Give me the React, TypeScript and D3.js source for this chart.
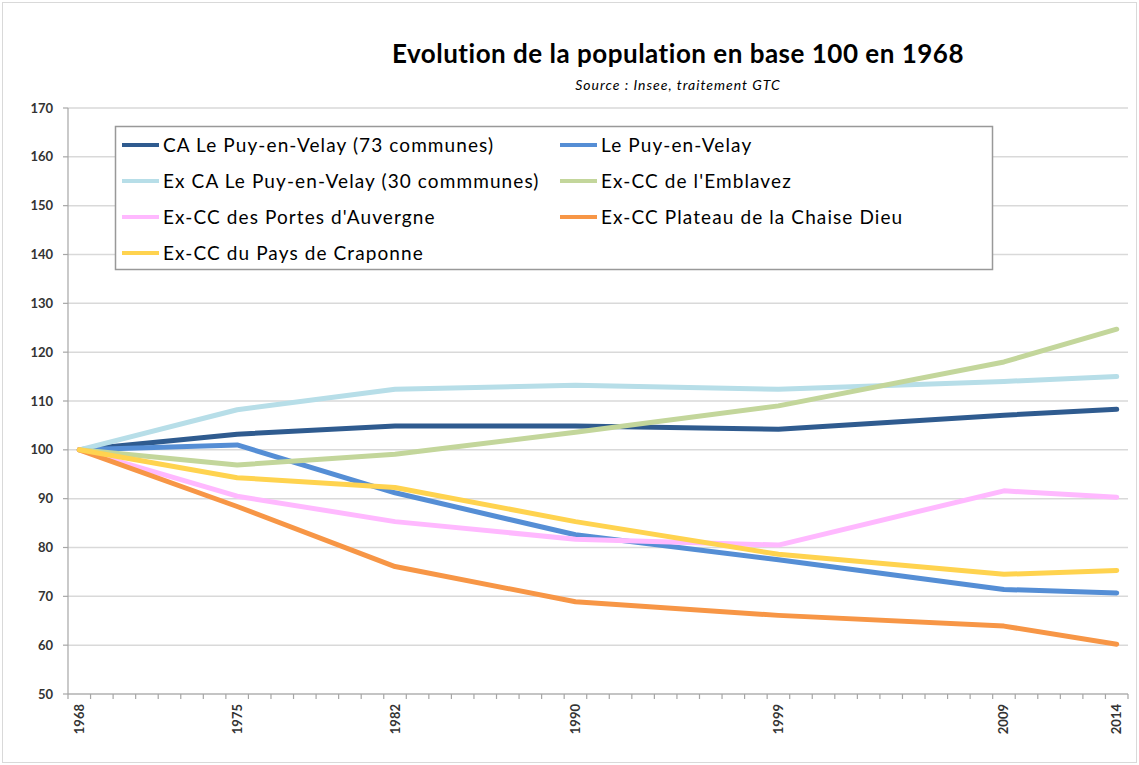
import React from "react";
import * as d3 from "d3";

const years = [1968, 1975, 1982, 1990, 1999, 2009, 2014];
const tickYears = [1968, 1975, 1982, 1990, 1999, 2009, 2014];
const yTicks = [50, 60, 70, 80, 90, 100, 110, 120, 130, 140, 150, 160, 170];

const seriesNames = [
  "CA Le Puy-en-Velay (73 communes)",
  "Le Puy-en-Velay",
  "Ex CA Le Puy-en-Velay (30 commmunes)",
  "Ex-CC de l'Emblavez",
  "Ex-CC des Portes d'Auvergne",
  "Ex-CC Plateau de la Chaise Dieu",
  "Ex-CC du Pays de Craponne",
];
const seriesColors = ["#2F5B8F", "#558ED5", "#B7DEE8", "#C3D69B", "#FFB9FF", "#F79646", "#FFD34F"];

const caPuy73 = [100, 103.2, 104.9, 104.9, 104.2, 107.1, 108.3];
const lePuy = [100, 101.0, 91.2, 82.6, 77.5, 71.4, 70.7];
const exCa30 = [100, 108.2, 112.4, 113.2, 112.4, 114.0, 115.0];
const emblavez = [100, 96.9, 99.1, 103.6, 109.0, 118.0, 124.7];
const portes = [100, 90.5, 85.3, 81.7, 80.5, 91.6, 90.3];
const chaiseDieu = [100, 88.4, 76.1, 68.9, 66.1, 63.9, 60.2];
const craponne = [100, 94.3, 92.3, 85.3, 78.6, 74.5, 75.3];

const seriesValues = [caPuy73, lePuy, exCa30, emblavez, portes, chaiseDieu, craponne];

const W = 1139;
const H = 765;
const FONT = "Lato, 'Open Sans', sans-serif";

export default function App() {
  const x = d3.scaleLinear().domain([1967.5, 2014.5]).range([68, 1128]);
  const y = d3.scaleLinear().domain([50, 170]).range([694, 108]);
  const line = d3
    .line<[number, number]>()
    .x((d) => x(d[0]))
    .y((d) => y(d[1]))
    .curve(d3.curveLinear);

  const catBounds = d3.range(1967.5, 2015, 1);

  const legendRows = [
    [0, 1],
    [2, 3],
    [4, 5],
    [6],
  ];

  return (
    <svg
      width={W}
      height={H}
      style={{ position: "absolute", left: 0, top: 0, background: "#fff" }}
      fontFamily={FONT}
    >
      <rect x={2.5} y={2.5} width={W - 5} height={H - 5} fill="#fff" stroke="#d9d9d9" />
      <text x={678} y={63} textAnchor="middle" fontSize={26} fontWeight="bold" letterSpacing={0.5} fill="#000">
        Evolution de la population en base 100 en 1968
      </text>
      <text x={678} y={90} textAnchor="middle" fontSize={14} fontStyle="italic" letterSpacing={1} fill="#000">
        Source : Insee, traitement GTC
      </text>

      {/* gridlines */}
      {yTicks.map((t) => (
        <line key={"g" + t} x1={68} x2={1128} y1={y(t)} y2={y(t)} stroke="#d9d9d9" strokeWidth={1.5} />
      ))}
      {/* y axis */}
      <line x1={68} x2={68} y1={y(170)} y2={y(50)} stroke="#a6a6a6" strokeWidth={1.2} />
      {yTicks.map((t) => (
        <g key={"yt" + t}>
          <line x1={63} x2={68} y1={y(t)} y2={y(t)} stroke="#a6a6a6" strokeWidth={1.2} />
          <text x={53} y={y(t) + 4.5} textAnchor="end" fontSize={13} fontWeight="bold" fill="#333">
            {t}
          </text>
        </g>
      ))}
      {/* x axis */}
      <line x1={68} x2={1128} y1={y(50)} y2={y(50)} stroke="#a6a6a6" strokeWidth={1.2} />
      {catBounds.map((b) => (
        <line key={"xt" + b} x1={x(b)} x2={x(b)} y1={y(50)} y2={y(50) + 5} stroke="#a6a6a6" strokeWidth={1.2} />
      ))}
      {tickYears.map((yr) => (
        <text
          key={"xl" + yr}
          transform={`translate(${x(yr) + 4.5},${y(50) + 10}) rotate(-90)`}
          textAnchor="end"
          fontSize={13}
          fontWeight="bold"
          fill="#333"
        >
          {yr}
        </text>
      ))}

      {/* lines */}
      {seriesValues.map((vals, i) => (
        <path
          key={"s" + i}
          d={line(years.map((yr, j) => [yr, vals[j]] as [number, number])) || ""}
          fill="none"
          stroke={seriesColors[i]}
          strokeWidth={5}
          strokeLinejoin="round"
          strokeLinecap="round"
        />
      ))}

      {/* legend */}
      <rect x={115.5} y={126.5} width={877} height={143} fill="#fff" stroke="#999" strokeWidth={1.5} />
      {legendRows.map((row, r) =>
        row.map((si, c) => {
          const lx = c === 0 ? 122 : 560;
          const ly = 145 + r * 36;
          return (
            <g key={"l" + si}>
              <line x1={lx} x2={lx + 37} y1={ly} y2={ly} stroke={seriesColors[si]} strokeWidth={4} />
              <text x={lx + 41} y={ly + 6.5} fontSize={19} letterSpacing={1.1} fill="#000">
                {seriesNames[si]}
              </text>
            </g>
          );
        })
      )}
    </svg>
  );
}
